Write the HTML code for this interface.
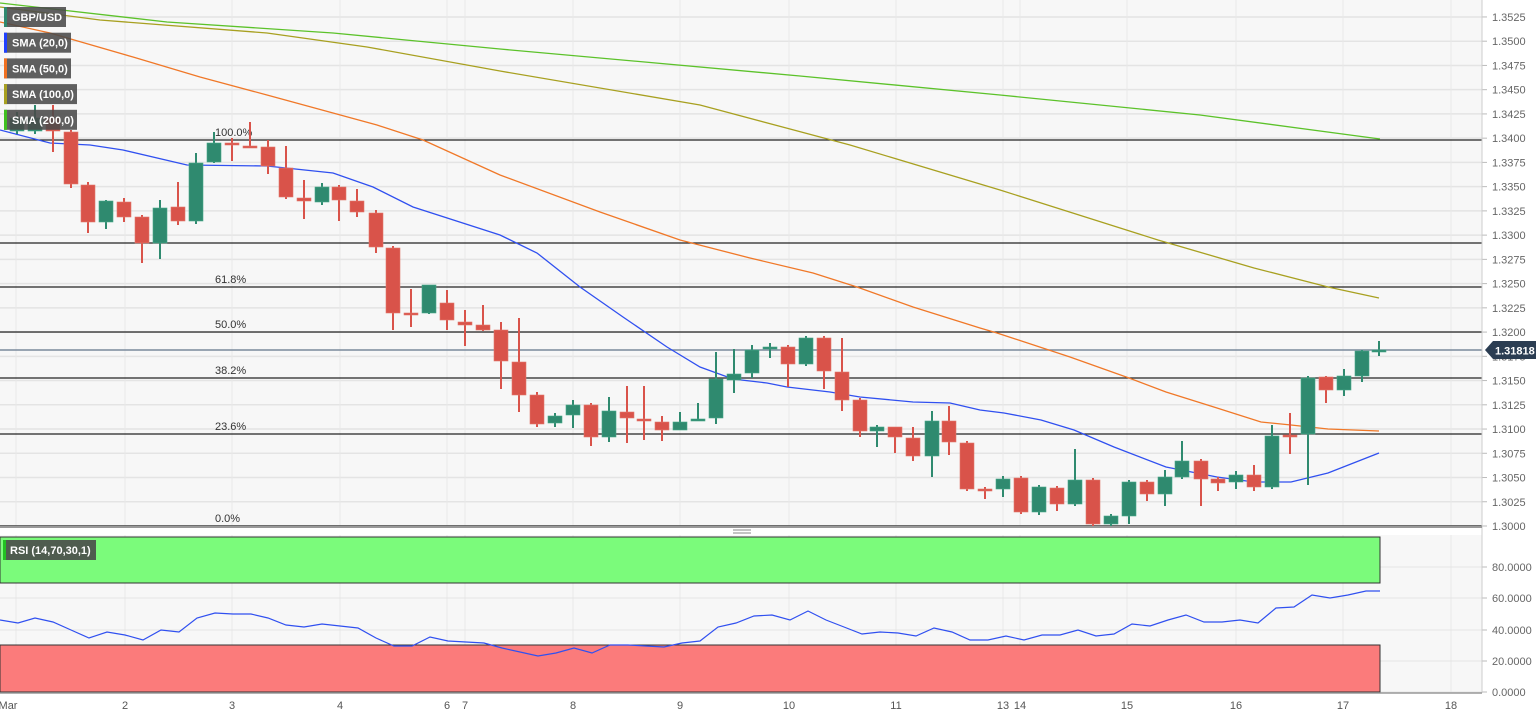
<!DOCTYPE html>
<html><head><meta charset="utf-8"><style>
html,body{margin:0;padding:0;background:#fff;width:1536px;height:720px;overflow:hidden}
svg{display:block;font-family:"Liberation Sans",sans-serif}
</style></head><body>
<svg id="s" width="1536" height="720" xmlns="http://www.w3.org/2000/svg">
<rect x="0" y="0" width="1482" height="527" fill="#f7f7f7"/>
<rect x="0" y="535" width="1482" height="158" fill="#f7f7f7"/>
<g id="grid"></g>
<g id="fib"></g>
<g id="sma"></g>
<g id="candles"></g>
<g id="rsi"></g>
<g id="axis"></g>
</svg>
<script>
const NS="http://www.w3.org/2000/svg";
function el(p,t,a,txt){const e=document.createElementNS(NS,t);for(const k in a)e.setAttribute(k,a[k]);if(txt!=null)e.textContent=txt;document.getElementById(p).appendChild(e);return e;}
const yp=p=>526-(p-1.3)/0.0025*24.24;
for(let i=0;i<=21;i++){const p=1.3+i*0.0025,y=yp(p);
 el('grid','line',{x1:0,x2:1482,y1:y,y2:y,stroke:'#e4e4e4','stroke-width':1.5});
 el('axis','line',{x1:1482,x2:1487,y1:y,y2:y,stroke:'#bbb'});
 el('axis','text',{x:1492,y:y+4,'font-size':11,fill:'#666'},p.toFixed(4));}
const xs=[[8,'Mar',16],[125,'2',125],[232,'3',232],[340,'4',340],[447,'6',447],[465,'7',465],[573,'8',573],[680,'9',680],[789,'10',789],[896,'11',896],[1003,'13',1003],[1020,'14',1020],[1127,'15',1127],[1236,'16',1236],[1343,'17',1343],[1451,'18',1451]];
xs.forEach(([x,t,g])=>{el('grid','line',{x1:g,x2:g,y1:0,y2:527,stroke:'#e8e8e8'});el('grid','line',{x1:g,x2:g,y1:535,y2:693,stroke:'#e8e8e8'});
 el('axis','text',{x:x,y:709,'font-size':11,fill:'#555','text-anchor':'middle'},t);});
[[80,567],[60,598],[40,630],[20,661],[0,692]].forEach(([v,y])=>{el('grid','line',{x1:0,x2:1482,y1:y,y2:y,stroke:'#e4e4e4'});
 el('axis','line',{x1:1482,x2:1487,y1:y,y2:y,stroke:'#bbb'});
 el('axis','text',{x:1492,y:y+4,'font-size':11,fill:'#666'},v.toFixed(4));});
el('axis','line',{x1:1482,x2:1482,y1:0,y2:693,stroke:'#ccc'});
el('axis','line',{x1:0,x2:1482,y1:527,y2:527,stroke:'#999','stroke-width':2});
el('axis','line',{x1:0,x2:1482,y1:693,y2:693,stroke:'#999','stroke-width':1.5});
el('axis','line',{x1:733,x2:751,y1:530,y2:530,stroke:'#888'});el('axis','line',{x1:733,x2:751,y1:533,y2:533,stroke:'#888'});
[[140,'100.0%'],[243,null],[287,'61.8%'],[332,'50.0%'],[378,'38.2%'],[434,'23.6%'],[526,'0.0%']].forEach(([y,t])=>{
 el('fib','line',{x1:0,x2:1482,y1:y,y2:y,stroke:'#222','stroke-width':1.2});
 if(t)el('fib','text',{x:215,y:y-4,'font-size':11,fill:'#333'},t);});
el('fib','line',{x1:0,x2:1482,y1:350,y2:350,stroke:'#7a8a9c','stroke-width':1.5});
const pl=(pts,c)=>el('sma','polyline',{points:pts.map(p=>p.join(',')).join(' '),fill:'none',stroke:c,'stroke-width':1.3});
pl([[0,3],[167,22],[333,33],[500,49],[800,76],[1000,95],[1200,115],[1380,139]],'#5cc22a');
pl([[0,7],[100,20],[267,33],[367,47],[500,71],[700,105],[850,145],[1000,190],[1158,240],[1254,268],[1328,287],[1379,298]],'#a8a020');
pl([[0,22],[50,33],[133,57],[200,77],[267,95],[333,113],[377,125],[423,140],[500,175],[600,212],[680,240],[750,258],[813,273],[857,287],[913,307],[980,328],[997,333],[1070,357],[1129,378],[1166,392],[1217,408],[1261,422],[1291,425],[1328,429],[1379,431]],'#f07828');
pl([[0,130],[50,143],[90,145],[123,150],[187,165],[267,166],[333,173],[373,187],[413,207],[500,235],[537,253],[580,287],[623,317],[667,347],[700,367],[733,379],[767,383],[787,387],[830,392],[860,397],[913,402],[950,403],[980,410],[1004,413],[1041,420],[1074,430],[1114,447],[1166,467],[1217,477],[1254,482],[1291,482],[1328,473],[1379,453]],'#3050f0');
const C=[[17,131,118,112,134],[35,131,118,105,134],[53,118,131,105,152],
[71,132,184,130,188],[88,185,222,182,233],[106,222,201,200,229],[124,202,217,198,222],[142,217,243,215,263],[160,243,208,200,259],[178,207,221,182,225],[196,221,163,153,224],[214,162,143,132,163],[232,143,145,138,161],[250,146,147,122,147],[268,147,166,140,174],[286,168,197,146,199],[304,198,201,180,219],[322,202,187,183,205],[339,187,200,185,221],[357,201,212,189,217],[376,213,247,210,253],[393,248,313,246,330],[411,313,314,289,327],[429,313,285,285,314],[447,303,320,290,330],[465,322,325,310,346],[483,325,330,305,331],
[501,330,361,322,389],[519,362,395,318,412],[537,395,424,392,427],[555,423,416,413,427],[573,415,405,400,428],[591,405,437,403,446],[609,437,411,397,442],[627,412,418,386,443],[644,419,421,386,440],[662,422,430,416,441],[680,430,422,412,430],[698,421,419,403,421],[716,418,379,352,424],[734,380,374,349,393],[752,373,350,345,378],[770,348,347,343,358],[788,347,364,345,387],[806,364,338,336,366],[824,338,371,336,389],[842,372,400,338,411],[860,400,431,398,437],[877,431,427,425,447],[895,427,437,427,453],[913,438,456,427,461],[932,456,421,411,477],[949,421,442,406,455],[967,443,489,441,491],
[985,489,490,487,499],[1003,489,479,476,497],[1021,478,512,476,514],[1039,512,487,485,515],[1057,488,504,486,511],[1075,504,480,449,506],[1093,480,524,478,526],[1111,524,516,514,527],[1129,516,482,480,524],[1147,482,494,480,501],[1165,494,477,470,506],[1182,477,461,441,479],[1201,461,479,459,506],[1218,479,483,477,491],[1236,482,475,471,489],[1254,475,487,465,491],[1272,487,436,425,489],[1290,435,436,413,454],[1308,434,378,376,485],[1326,377,390,376,403],[1344,390,376,369,396],[1362,376,351,350,382],[1379,351,350,341,356]];
C.forEach(([x,o,c,h,l])=>{const up=c<o,col=up?'#2f8a6f':'#d9534a';
 el('candles','line',{x1:x,x2:x,y1:h,y2:l,stroke:col,'stroke-width':2});
 const t=Math.min(o,c),b=Math.max(o,c);
 el('candles','rect',{x:x-7,y:t,width:14,height:Math.max(b-t,2),fill:col,stroke:up?'#4aa88a':'#e27a6f','stroke-width':0.6});});
el('rsi','rect',{x:0,y:537,width:1380,height:46,fill:'#7bfb7b',stroke:'#333','stroke-width':1});
el('rsi','rect',{x:0,y:645,width:1380,height:47,fill:'#fb7b7b',stroke:'#333','stroke-width':1});
const R=[[0,620],[18,623],[35,618],[53,622],[71,630],[89,638],[107,632],[125,635],[143,640],[161,630],[179,632],[197,618],[215,613],[233,614],[251,614],[268,618],[286,625],[304,627],[322,624],[340,626],[358,628],[376,638],[394,646],[412,646],[430,637],[448,641],[466,642],[484,643],[502,648],[520,652],[538,656],[556,653],[574,648],[592,653],[610,645],[628,645],[646,646],[664,647],[682,643],[700,641],[718,627],[736,623],[754,616],[772,615],[790,620],[808,611],[826,620],[844,627],[862,634],[880,632],[898,633],[916,636],[934,628],[952,632],[970,640],[988,640],[1006,636],[1024,640],[1042,635],[1060,635],[1078,630],[1096,636],[1114,634],[1132,624],[1150,626],[1168,620],[1186,615],[1204,622],[1222,622],[1240,620],[1258,623],[1276,608],[1294,607],[1312,595],[1330,598],[1348,595],[1366,591],[1380,591]];
el('rsi','polyline',{points:R.map(p=>p.join(',')).join(' '),fill:'none',stroke:'#3050f0','stroke-width':1.2});
el('rsi','rect',{x:3,y:540,width:93,height:20,fill:'#4a4a4a',opacity:0.9});
el('rsi','rect',{x:3,y:540,width:3,height:20,fill:'#22c022'});
el('rsi','text',{x:10,y:554,'font-size':11,'font-weight':'bold',fill:'#fff'},'RSI (14,70,30,1)');
[['GBP/USD','#2f8a6f',62],['SMA (20,0)','#2040ff',67],['SMA (50,0)','#f07020',67],['SMA (100,0)','#a8a020',73],['SMA (200,0)','#40c020',73]].forEach(([t,c,w],i)=>{const y=7+i*25.7;
 el('axis','rect',{x:4,y:y,width:w,height:20,fill:'#4a4a4a',opacity:0.88});
 el('axis','rect',{x:4,y:y,width:3,height:20,fill:c});
 el('axis','text',{x:12,y:y+14,'font-size':11,'font-weight':'bold',fill:'#fff'},t);});
el('axis','path',{d:'M1485,350 L1493,341 L1536,341 L1536,359 L1493,359 Z',fill:'#2b3d52'});
el('axis','text',{x:1495,y:354.5,'font-size':11,'font-weight':'bold',fill:'#fff'},'1.31818');
</script>
</body></html>
